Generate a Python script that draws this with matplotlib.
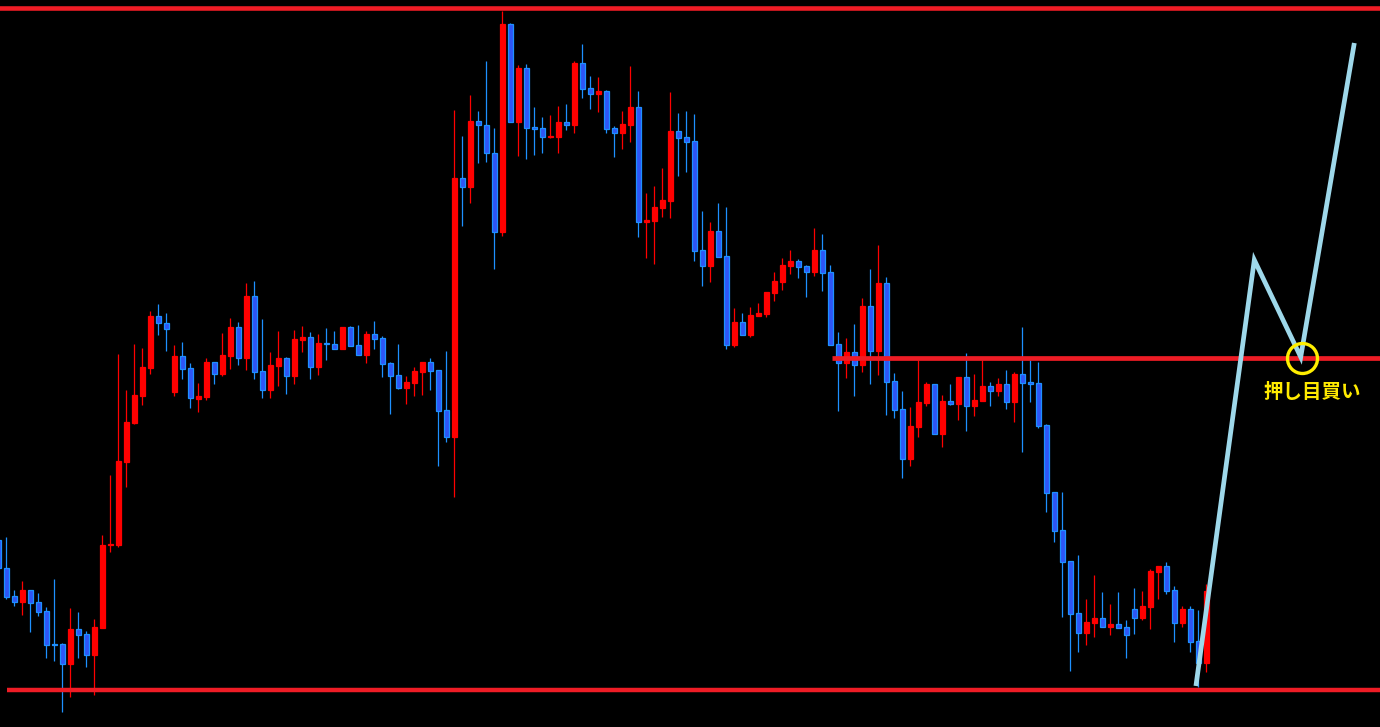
import matplotlib
matplotlib.use('Agg')
import matplotlib.pyplot as plt
import numpy as np

# Candle values in chart units (axis runs downward:
# a smaller number is a higher price). Red = rising candle, blue = falling.
opens = [540, 568, 596, 602, 590, 602, 611, 644, 644, 664, 629, 634, 655, 628, 545, 545, 462,
         423, 396, 368, 316, 323, 392, 356, 368, 399, 397, 362, 374, 356, 327, 358, 296,
         371, 390, 366, 358, 376, 340, 337, 367, 343, 344, 349, 327, 345, 355, 334, 338,
         363, 375, 388, 383, 372, 362, 370, 410, 437, 178, 187, 121, 125, 153, 232, 24,
         122, 68, 127, 128, 137, 137, 122, 125, 63, 88, 94, 91, 128, 133, 125, 107,
         222, 221, 208, 201, 131, 137, 141, 250, 266, 231, 256, 345, 322, 335, 316, 314,
         293, 282, 266, 261, 266, 272, 250, 272, 344, 363, 352, 365, 306, 351, 283, 381,
         409, 459, 427, 403, 384, 434, 401, 404, 377, 406, 401, 386, 391, 384, 402, 374,
         382, 383, 425, 492, 530, 561, 613, 633, 623, 618, 627, 624, 627, 609, 618, 607,
         572, 566, 590, 623, 609, 641, 663]
highs = [533, 537, 590, 581, 590, 593, 607, 579, 643, 608, 612, 631, 619, 535, 475, 354, 390,
         344, 348, 311, 304, 313, 345, 342, 363, 383, 358, 362, 333, 318, 322, 283, 281,
         319, 352, 331, 357, 330, 326, 332, 334, 328, 331, 327, 326, 325, 331, 321, 336,
         362, 344, 376, 367, 362, 358, 370, 351, 110, 136, 95, 111, 61, 128, 11, 23,
         65, 64, 107, 117, 115, 106, 104, 61, 44, 76, 77, 90, 126, 111, 66, 91,
         193, 186, 168, 92, 113, 111, 114, 211, 222, 203, 207, 308, 313, 307, 303, 292,
         272, 258, 250, 259, 265, 228, 234, 265, 332, 338, 324, 298, 269, 245, 277, 373,
         391, 407, 360, 382, 384, 395, 384, 377, 353, 374, 360, 382, 378, 370, 372, 327,
         360, 362, 424, 492, 492, 561, 555, 599, 575, 592, 604, 592, 620, 588, 591, 569,
         566, 562, 586, 606, 606, 610, 584]
lows = [570, 599, 606, 615, 632, 616, 658, 661, 712, 697, 658, 667, 695, 628, 552, 547, 487,
        424, 405, 374, 335, 351, 396, 379, 408, 412, 400, 384, 376, 369, 365, 370, 379,
        398, 398, 386, 394, 384, 352, 379, 375, 360, 349, 349, 346, 355, 363, 349, 377,
        414, 389, 404, 396, 395, 390, 466, 442, 497, 226, 203, 163, 162, 269, 236, 122,
        156, 159, 155, 153, 138, 153, 130, 133, 98, 109, 112, 133, 157, 149, 142, 237,
        258, 264, 217, 218, 176, 172, 261, 286, 282, 257, 349, 347, 335, 337, 316, 317,
        301, 290, 274, 278, 297, 276, 291, 345, 411, 378, 396, 372, 384, 375, 415, 418,
        478, 466, 437, 406, 434, 447, 405, 420, 431, 416, 401, 406, 396, 409, 422, 452,
        402, 428, 512, 542, 617, 671, 652, 645, 637, 627, 635, 628, 658, 634, 620, 629,
        599, 594, 642, 627, 652, 687, 672]
closes = [568, 597, 602, 590, 603, 612, 645, 645, 664, 629, 635, 655, 627, 545, 544, 461, 422,
          395, 367, 316, 323, 329, 356, 369, 398, 396, 362, 374, 355, 327, 358, 296, 372,
          390, 365, 358, 376, 339, 337, 367, 343, 344, 349, 327, 346, 355, 334, 339, 364,
          376, 388, 382, 371, 362, 371, 411, 437, 178, 187, 121, 125, 153, 232, 24, 122,
          68, 128, 129, 137, 136, 122, 125, 63, 89, 94, 91, 129, 133, 124, 107, 222,
          220, 207, 200, 131, 138, 142, 251, 266, 231, 257, 345, 322, 335, 315, 313, 292,
          281, 265, 261, 267, 272, 250, 273, 345, 363, 352, 365, 306, 351, 283, 382, 410,
          459, 426, 402, 384, 434, 401, 404, 377, 406, 400, 386, 391, 384, 402, 374, 383,
          384, 426, 493, 531, 562, 614, 633, 622, 618, 627, 624, 628, 635, 618, 606, 571,
          566, 591, 623, 609, 642, 663, 591]
first_index = -1

# Horizontal levels and the drawn scenario path
resistance_level = 8
middle_level = 358
support_level = 690
middle_start = 103.2
support_start = 0.1
path_x = [148.7, 156.0, 161.8, 168.5]
path_y = [686, 260, 357, 43]
mark_x, mark_y = 161.9, 358
label_text = '押し目買い'
label_x, label_y = 163.2, 393

opens = np.array(opens, float)
highs = np.array(highs, float)
lows = np.array(lows, float)
closes = np.array(closes, float)
idx = np.arange(first_index, first_index + len(opens))

RED = '#ff0000'
BLUE_EDGE = '#1e90ff'
BLUE_FACE = '#2e55f5'
LINE_RED = '#ee1c25'

up = closes < opens  # rising candles (red)

fig = plt.figure(figsize=(13.8, 7.27), dpi=100, facecolor='black')
ax = fig.add_axes([0, 0, 1, 1])
ax.set_facecolor('black')
ax.set_xlim(-0.7875, 171.71)
ax.set_ylim(727, 0)
ax.axis('off')

wick_colors = [RED if u else BLUE_EDGE for u in up]
ax.vlines(idx, highs, lows, colors=wick_colors, linewidth=0.9, zorder=2)

face = [RED if u else BLUE_FACE for u in up]
edge = [RED if u else BLUE_EDGE for u in up]
ax.bar(idx, closes - opens, bottom=opens, width=0.6, color=face,
       edgecolor=edge, linewidth=0.9, zorder=3)

ax.hlines(resistance_level, -1, 173, color=LINE_RED, linewidth=3.3, zorder=4)
ax.hlines(middle_level, middle_start, 173, color=LINE_RED, linewidth=3.4, zorder=4)
ax.hlines(support_level, support_start, 173, color=LINE_RED, linewidth=3.2, zorder=4)

ax.plot(path_x, path_y, color='#9ed8ea', linewidth=3.4, zorder=5,
        solid_joinstyle='miter', solid_capstyle='butt')

ax.plot([mark_x], [mark_y], marker='o', markersize=21.6, markerfacecolor='none',
        markeredgecolor='#ffee00', markeredgewidth=2.4, zorder=6)

ax.text(label_x, label_y, label_text, color='#ffea00', fontsize=14, fontweight='bold',
        family=['Noto Sans CJK JP', 'DejaVu Sans'], ha='center', va='center', zorder=7)

fig.savefig('out.png', dpi=100, facecolor='black')
